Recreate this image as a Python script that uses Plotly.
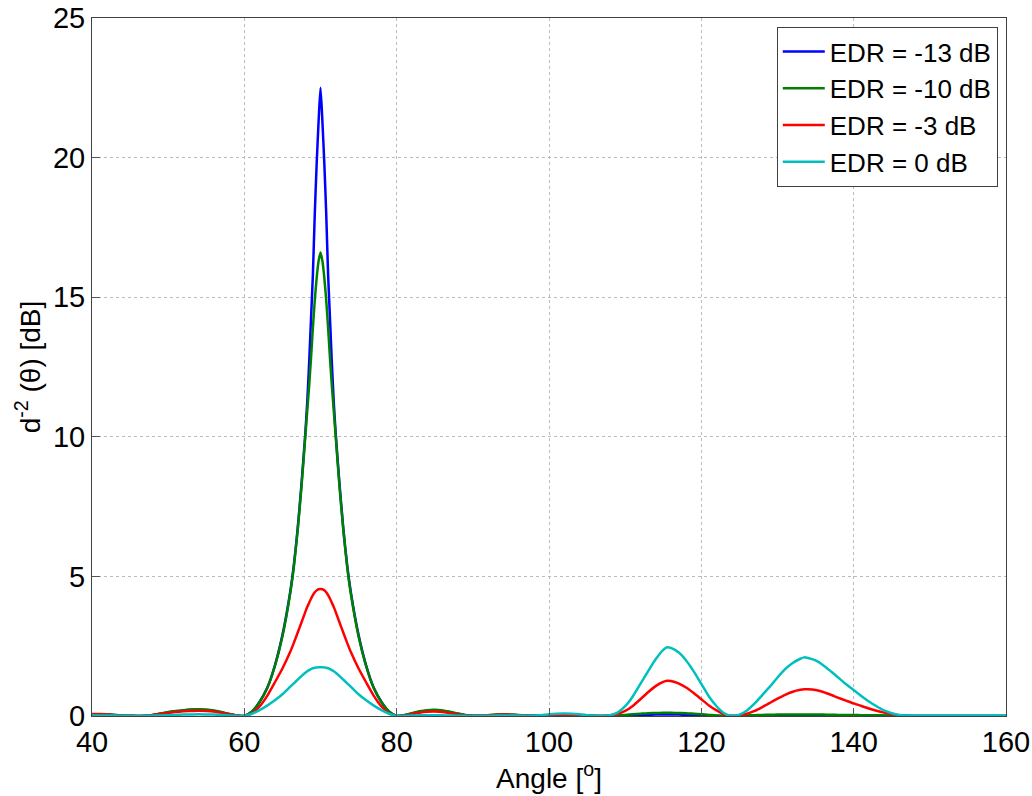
import plotly.graph_objects as go

# ---------------- data ----------------
ANGLE_A = [40, 41, 42, 43, 44, 45, 46, 47, 48, 49, 50, 51, 52, 53, 54, 55, 56, 57, 58, 59]
ANGLE_MAIN = [60, 61, 62, 63, 64, 65, 66, 66.5, 67, 67.5, 68, 68.25, 68.5, 68.75, 69, 69.25, 69.5, 69.75,
              70, 70.25, 70.5, 70.75, 71, 71.25, 71.5, 71.75, 72, 72.5, 73, 73.5, 74, 75, 76, 77, 78, 79]
ANGLE_C = [80, 81, 82, 83, 84, 85, 86, 87, 88, 89, 90, 91, 92, 93, 94, 95, 96, 97, 98, 99,
           100, 101, 102, 103, 104, 105, 106, 107]
ANGLE_D = [108, 109, 110, 111, 112, 113, 114, 115, 115.5, 116, 117, 118, 119, 120, 121, 122, 123, 124,
           125, 126, 127, 128, 129, 130, 131, 132, 133, 133.5, 134, 135, 136, 137, 138, 139, 140,
           141, 142, 143, 144, 145, 146, 147, 148, 149, 150, 151, 152, 153, 154, 155, 156, 157, 158, 159, 160]

BLUE_A = [0.06, 0.06, 0.05, 0.035, 0.02, 0.005, 0, 0.01, 0.035, 0.08, 0.13, 0.17, 0.2, 0.22, 0.22, 0.21, 0.18, 0.13, 0.07, 0.02]
GREEN_A = [0.07, 0.07, 0.06, 0.04, 0.02, 0.005, 0, 0.01, 0.04, 0.09, 0.14, 0.18, 0.21, 0.23, 0.24, 0.23, 0.2, 0.14, 0.07, 0.02]
RED_A = [0.06, 0.06, 0.05, 0.03, 0.015, 0.005, 0, 0.01, 0.03, 0.07, 0.11, 0.14, 0.17, 0.18, 0.19, 0.18, 0.16, 0.11, 0.06, 0.02]
CYAN_A = [0.02, 0.02, 0.02, 0.015, 0.01, 0.005, 0, 0.005, 0.01, 0.02, 0.03, 0.04, 0.05, 0.055, 0.06, 0.055, 0.05, 0.035, 0.02, 0.005]

BLUE_MAIN = [0, 0.15, 0.5, 1.0, 1.8, 2.9, 4.4, 5.4, 6.7, 8.3, 10.1, 11.2, 12.6, 14.2, 15.8, 18.0, 19.8, 21.3,
             22.5, 21.3, 19.8, 18.0, 15.8, 14.2, 12.6, 11.2, 10.1, 8.3, 6.7, 5.4, 4.4, 2.9, 1.8, 1.0, 0.5, 0.15]
GREEN_MAIN = [0, 0.16, 0.5, 1.0, 1.78, 2.85, 4.35, 5.35, 6.65, 8.2, 10.0, 10.9, 11.8, 12.8, 13.9, 14.9, 15.7, 16.3,
              16.6, 16.3, 15.7, 14.9, 13.9, 12.8, 11.8, 10.9, 10.0, 8.2, 6.65, 5.35, 4.35, 2.85, 1.78, 1.0, 0.5, 0.16]
RED_MAIN = [0, 0.1, 0.34, 0.72, 1.2, 1.7, 2.28, 2.62, 2.98, 3.35, 3.72, 3.9, 4.05, 4.2, 4.33, 4.43, 4.5, 4.54,
            4.55, 4.54, 4.5, 4.43, 4.33, 4.2, 4.05, 3.9, 3.72, 3.35, 2.98, 2.62, 2.28, 1.7, 1.2, 0.72, 0.34, 0.1]
CYAN_MAIN = [0, 0.08, 0.21, 0.37, 0.56, 0.78, 1.04, 1.17, 1.3, 1.43, 1.55, 1.6, 1.64, 1.68, 1.71, 1.73, 1.74, 1.75,
             1.75, 1.75, 1.74, 1.73, 1.71, 1.68, 1.64, 1.6, 1.55, 1.43, 1.3, 1.17, 1.04, 0.78, 0.56, 0.37, 0.21, 0.08]

BLUE_C = [0, 0.03, 0.09, 0.15, 0.19, 0.2, 0.18, 0.13, 0.08, 0.03, 0.01, 0.01, 0.02, 0.04, 0.05, 0.04, 0.03, 0.015,
          0.005, 0, 0, 0.01, 0.02, 0.03, 0.04, 0.03, 0.01, 0]
GREEN_C = [0, 0.03, 0.1, 0.17, 0.21, 0.22, 0.2, 0.15, 0.09, 0.04, 0.01, 0.01, 0.03, 0.05, 0.06, 0.05, 0.04, 0.02,
           0.01, 0, 0, 0.01, 0.01, 0.01, 0.01, 0.005, 0, 0]
RED_C = [0, 0.02, 0.07, 0.12, 0.15, 0.16, 0.14, 0.1, 0.06, 0.02, 0.005, 0.01, 0.03, 0.04, 0.05, 0.04, 0.03, 0.015,
         0.005, 0, 0.01, 0.02, 0.03, 0.03, 0.02, 0.01, 0, 0]
CYAN_C = [0, 0.005, 0.015, 0.025, 0.03, 0.03, 0.03, 0.02, 0.01, 0.005, 0, 0.005, 0.01, 0.015, 0.02, 0.02, 0.015, 0.01,
          0.01, 0.03, 0.06, 0.08, 0.09, 0.08, 0.06, 0.03, 0.01, 0]

BLUE_D = [0, 0.005, 0.01, 0.02, 0.03, 0.04, 0.05, 0.05, 0.05, 0.05, 0.05, 0.04, 0.03, 0.02, 0.01, 0.005, 0, 0,
          0.005, 0.005, 0.005, 0.005, 0.01, 0.01, 0.01, 0.01, 0.01, 0.01, 0.01, 0.01, 0.01, 0.01, 0.005, 0.005, 0.005,
          0.005, 0.005, 0.005, 0.005, 0.005, 0.005, 0.005, 0, 0, 0, 0, 0, 0, 0, 0, 0, 0, 0, 0, 0]
GREEN_D = [0.005, 0.02, 0.04, 0.06, 0.08, 0.1, 0.11, 0.12, 0.12, 0.12, 0.11, 0.1, 0.08, 0.06, 0.04, 0.02, 0.01, 0,
           0.01, 0.02, 0.03, 0.04, 0.045, 0.05, 0.05, 0.05, 0.05, 0.05, 0.05, 0.05, 0.05, 0.045, 0.04, 0.04, 0.035,
           0.03, 0.03, 0.025, 0.02, 0.015, 0.01, 0.005, 0, 0, 0, 0, 0, 0, 0, 0, 0, 0, 0, 0, 0]
RED_D = [0.02, 0.07, 0.18, 0.36, 0.6, 0.85, 1.07, 1.22, 1.26, 1.25, 1.17, 1.02, 0.82, 0.6, 0.38, 0.2, 0.06, 0,
         0.02, 0.08, 0.18, 0.32, 0.47, 0.62, 0.76, 0.87, 0.94, 0.96, 0.96, 0.93, 0.86, 0.76, 0.65, 0.55, 0.45,
         0.36, 0.27, 0.19, 0.12, 0.06, 0.02, 0, 0, 0, 0, 0, 0, 0, 0, 0, 0, 0, 0, 0, 0]
CYAN_D = [0.03, 0.12, 0.35, 0.7, 1.15, 1.6, 2.03, 2.37, 2.46, 2.44, 2.28, 1.99, 1.6, 1.15, 0.7, 0.35, 0.1, 0,
          0.05, 0.2, 0.45, 0.75, 1.05, 1.38, 1.68, 1.9, 2.05, 2.1, 2.08, 1.99, 1.82, 1.6, 1.37, 1.14, 0.93,
          0.72, 0.52, 0.35, 0.2, 0.1, 0.04, 0.02, 0.02, 0.02, 0.02, 0.02, 0.02, 0.02, 0.02, 0.02, 0.02, 0.02, 0.02, 0.02, 0.02]

ANGLE = ANGLE_A + ANGLE_MAIN + ANGLE_C + ANGLE_D
SERIES = [
    ("EDR = -13 dB", "#0000FF", BLUE_A + BLUE_MAIN + BLUE_C + BLUE_D),
    ("EDR = -10 dB", "#008000", GREEN_A + GREEN_MAIN + GREEN_C + GREEN_D),
    ("EDR = -3 dB", "#FF0000", RED_A + RED_MAIN + RED_C + RED_D),
    ("EDR = 0 dB", "#00BFBF", CYAN_A + CYAN_MAIN + CYAN_C + CYAN_D),
]

X_TICKS = [40, 60, 80, 100, 120, 140, 160]
Y_TICKS = [0, 5, 10, 15, 20, 25]

# ---------------- figure ----------------
fig = go.Figure()
for name, color, vals in SERIES:
    assert len(vals) == len(ANGLE), name
    fig.add_trace(go.Scatter(x=ANGLE, y=vals, mode="lines", name=name,
                             line=dict(color=color, width=2.5, shape="spline", smoothing=0.6)))

FONT = "Liberation Sans, Arial, sans-serif"
axis_common = dict(
    showline=True, linecolor="#404040", linewidth=1, mirror=True,
    ticks="inside", ticklen=8, tickcolor="#555555", tickwidth=1,
    showgrid=True, gridcolor="#BBBBBB", griddash="dot", gridwidth=1,
    zeroline=False, automargin=False,
    tickfont=dict(family=FONT, size=29, color="black"),
)

fig.update_layout(
    width=1032, height=796,
    margin=dict(l=92, r=26, t=18, b=80),
    paper_bgcolor="white", plot_bgcolor="white",
    font=dict(family=FONT, color="black"),
    xaxis=dict(range=[40, 160], tickvals=X_TICKS, ticktext=[str(v) for v in X_TICKS],
               title=dict(text="Angle [<sup>o</sup>]", font=dict(family=FONT, size=28), standoff=4),
               **axis_common),
    yaxis=dict(range=[0, 25], tickvals=Y_TICKS, ticktext=[str(v) for v in Y_TICKS],
               title=dict(text="d<sup>-2</sup> (θ) [dB]", font=dict(family=FONT, size=28), standoff=4),
               **axis_common),
    legend=dict(x=0.991, y=0.987, xanchor="right", yanchor="top",
                bgcolor="white", bordercolor="#404040", borderwidth=1,
                font=dict(family=FONT, size=26, color="black"),
                tracegroupgap=0, itemwidth=42),
    showlegend=True,
)

fig.write_html("out.html")
